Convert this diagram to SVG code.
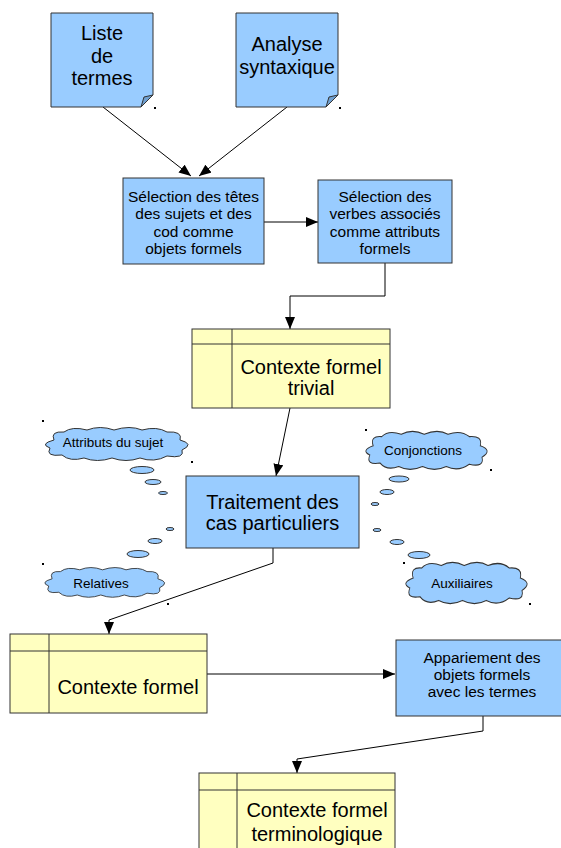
<svg xmlns="http://www.w3.org/2000/svg" width="561" height="848" viewBox="0 0 561 848">
<style>
.blue{fill:#99ccff;stroke:#333;stroke-width:1}
.yel{fill:#ffffc0;stroke:#333;stroke-width:1}
.ln{fill:none;stroke:#000;stroke-width:1}
.fold{fill:#6f9fd0;stroke:#333;stroke-width:1}
.cl{fill:#99ccff;stroke:#333;stroke-width:1;vector-effect:non-scaling-stroke}
text{font-family:"Liberation Sans",Arial,sans-serif;fill:#000;text-anchor:middle}
.t20{font-size:20px}
.t14{font-size:15.500px}
.t18{font-size:20px}
.t12{font-size:13.500px}
.dot{fill:#000}
</style>
<defs>
<marker id="ah" viewBox="0 0 12 10" refX="12" refY="5" markerWidth="12" markerHeight="10" markerUnits="userSpaceOnUse" orient="auto">
<path d="M0,0 L12,5 L0,10 Z" fill="#000"/>
</marker>
<path id="cloud" d="M12,12 Q8,3 22,4 Q30,-2 45,2 Q58,-3 72,2 Q88,-3 100,2 Q115,-2 125,4 Q141,3 138,12 Q153,16 140,22 Q143,31 125,28 Q112,35 98,30 Q84,35 70,30 Q55,35 42,30 Q28,34 20,27 Q3,29 8,20 Q-3,16 12,12 Z"/>
</defs>

<g id="connectors">
<path class="ln" d="M103,107 L191,176" marker-end="url(#ah)"/>
<path class="ln" d="M287,107 L199,176" marker-end="url(#ah)"/>
<path class="ln" d="M264,222 L318,222" marker-end="url(#ah)"/>
<path class="ln" d="M385,263 V296 H290 V329" marker-end="url(#ah)"/>
<path class="ln" d="M290,408 L276,476" marker-end="url(#ah)"/>
<path class="ln" d="M273,548 V563 L109,620 V634" marker-end="url(#ah)"/>
<path class="ln" d="M207,674 H395" marker-end="url(#ah)"/>
<path class="ln" d="M483,716 V731 L297,759 V773" marker-end="url(#ah)"/>
</g>

<g id="note-liste">
<path class="blue" d="M51,13 H153 V95 L141,107 H51 Z"/>
<path class="fold" d="M141,107 L144,97 L153,95 Z"/>
<text class="t20" x="102" y="40">Liste</text>
<text class="t20" x="102" y="63">de</text>
<text class="t20" x="102" y="85">termes</text>
<rect class="dot" x="154" y="107" width="2" height="2"/>
</g>

<g id="note-analyse">
<path class="blue" d="M236,13 H338 V95 L326,107 H236 Z"/>
<path class="fold" d="M326,107 L329,97 L338,95 Z"/>
<text class="t20" x="287" y="51">Analyse</text>
<text class="t20" x="287" y="74">syntaxique</text>
<rect class="dot" x="339" y="107" width="2" height="2"/>
</g>

<g id="box-selection-tetes">
<rect class="blue" x="123" y="178" width="141" height="86"/>
<text class="t14" x="193.500" y="201.500">Sélection des têtes</text>
<text class="t14" x="193.500" y="219">des sujets et des</text>
<text class="t14" x="193.500" y="236.500">cod comme</text>
<text class="t14" x="193.500" y="254">objets formels</text>
</g>

<g id="box-selection-verbes">
<rect class="blue" x="318" y="180" width="134" height="83"/>
<text class="t14" x="385" y="201.500">Sélection des</text>
<text class="t14" x="385" y="219">verbes associés</text>
<text class="t14" x="385" y="236.500">comme attributs</text>
<text class="t14" x="385" y="254">formels</text>
</g>

<g id="ctx-trivial">
<rect class="yel" x="192" y="329" width="198" height="79"/>
<path class="ln" style="stroke:#333" d="M192,344 H390 M232,329 V408"/>
<text class="t18" x="311" y="374">Contexte formel</text>
<text class="t18" x="311" y="395">trivial</text>
</g>

<g id="box-traitement">
<rect class="blue" x="186" y="476" width="173" height="72"/>
<text class="t18" x="272.500" y="509">Traitement des</text>
<text class="t18" x="272.500" y="530">cas particuliers</text>
</g>

<g id="cloud-attributs">
<use href="#cloud" class="cl" transform="translate(42,428) scale(1,1)"/>
<text class="t12" x="113" y="447">Attributs du sujet</text>
<rect class="dot" x="42" y="420" width="2" height="2"/>
<rect class="dot" x="191" y="461" width="2" height="2"/>
<ellipse class="blue" cx="142" cy="470" rx="12" ry="3.500"/>
<ellipse class="blue" cx="153" cy="482" rx="8" ry="2.500"/>
<ellipse class="blue" cx="163" cy="493" rx="4.500" ry="1.500"/>
</g>

<g id="cloud-relatives">
<use href="#cloud" class="cl" transform="translate(42,568) scale(0.84,0.9)"/>
<text class="t12" x="101" y="588">Relatives</text>
<rect class="dot" x="42" y="563" width="2" height="2"/>
<rect class="dot" x="167" y="603" width="2" height="2"/>
<ellipse class="blue" cx="170" cy="529" rx="4" ry="1.500"/>
<ellipse class="blue" cx="155" cy="541" rx="7" ry="2.500"/>
<ellipse class="blue" cx="138" cy="554" rx="11" ry="3.500"/>
</g>

<g id="cloud-conjonctions">
<use href="#cloud" class="cl" transform="translate(363,432) scale(0.85,1.15)"/>
<text class="t12" x="423" y="455">Conjonctions</text>
<rect class="dot" x="365" y="429" width="2" height="2"/>
<rect class="dot" x="490" y="469" width="2" height="2"/>
<ellipse class="blue" cx="399" cy="479" rx="10" ry="3"/>
<ellipse class="blue" cx="387" cy="492" rx="7" ry="2.500"/>
<ellipse class="blue" cx="375" cy="504" rx="4" ry="1.500"/>
</g>

<g id="cloud-auxiliaires">
<use href="#cloud" class="cl" transform="translate(403,563) scale(0.85,1.25)"/>
<text class="t12" x="462" y="588">Auxiliaires</text>
<rect class="dot" x="403" y="562" width="2" height="2"/>
<rect class="dot" x="529" y="603" width="2" height="2"/>
<ellipse class="blue" cx="377" cy="530" rx="4" ry="1.500"/>
<ellipse class="blue" cx="397" cy="542" rx="7" ry="2.500"/>
<ellipse class="blue" cx="419" cy="555" rx="11" ry="3.500"/>
</g>

<g id="ctx-formel">
<rect class="yel" x="10" y="634" width="197" height="79"/>
<path class="ln" style="stroke:#333" d="M10,651 H207 M49,634 V713"/>
<text class="t18" x="128" y="694">Contexte formel</text>
</g>

<g id="box-appariement">
<rect class="blue" x="396" y="640" width="168" height="76"/>
<text class="t14" x="482" y="663">Appariement des</text>
<text class="t14" x="482" y="680">objets formels</text>
<text class="t14" x="482" y="697">avec les termes</text>
</g>

<g id="ctx-terminologique">
<rect class="yel" x="199" y="773" width="196" height="90"/>
<path class="ln" style="stroke:#333" d="M199,790 H395 M237,773 V848"/>
<text class="t18" x="317" y="817">Contexte formel</text>
<text class="t18" x="317" y="841">terminologique</text>
</g>
</svg>
